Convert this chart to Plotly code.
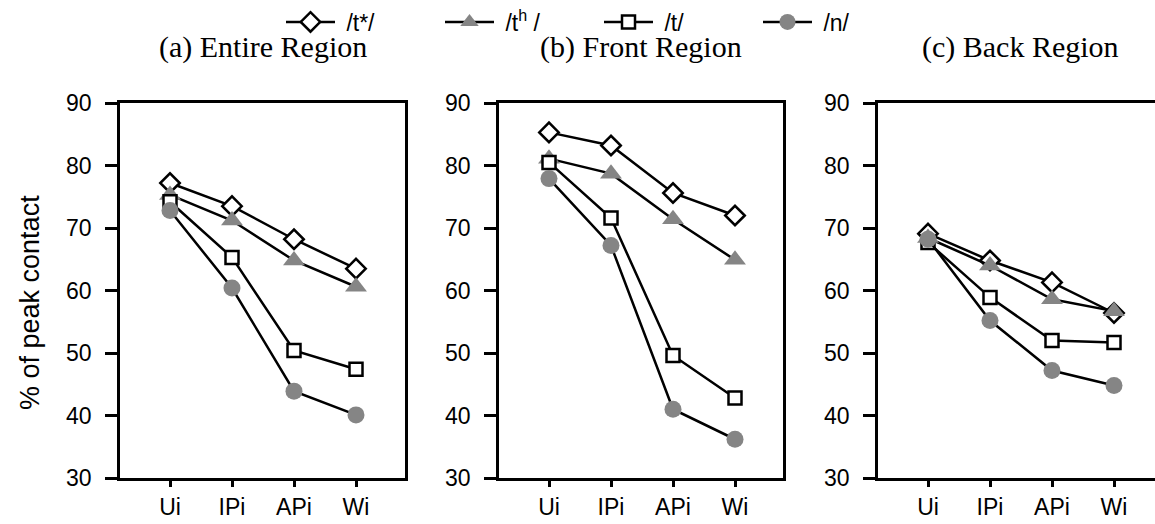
import plotly.graph_objects as go

categories = ["Ui", "IPi", "APi", "Wi"]
y_ticks = [30, 40, 50, 60, 70, 80, 90]

panel_titles = ["(a) Entire Region", "(b) Front Region", "(c) Back Region"]
series_names = ["/t*/", "/t<sup>h</sup> /", "/t/", "/n/"]

# panel (a) Entire Region
entire_tstar = [77.2, 73.5, 68.2, 63.5]
entire_th = [75.3, 71.2, 64.8, 60.6]
entire_t = [74.2, 65.3, 50.4, 47.4]
entire_n = [72.8, 60.4, 43.9, 40.1]

# panel (b) Front Region
front_tstar = [85.3, 83.2, 75.6, 72.0]
front_th = [81.1, 78.7, 71.4, 64.9]
front_t = [80.5, 71.6, 49.6, 42.8]
front_n = [77.9, 67.2, 41.0, 36.2]

# panel (c) Back Region
back_tstar = [69.1, 64.8, 61.3, 56.4]
back_th = [68.4, 64.0, 58.6, 56.7]
back_t = [67.7, 58.9, 52.0, 51.7]
back_n = [68.2, 55.2, 47.2, 44.8]

panels = [
    [entire_tstar, entire_th, entire_t, entire_n],
    [front_tstar, front_th, front_t, front_n],
    [back_tstar, back_th, back_t, back_n],
]

W, H = 1155, 524
GRAY = "#858585"
styles = [
    dict(symbol="diamond", size=15, color="white", line=dict(color="black", width=2.5)),
    dict(symbol="triangle-up", size=19, color=GRAY, line=dict(color=GRAY, width=0)),
    dict(symbol="square", size=13, color="white", line=dict(color="black", width=2.5)),
    dict(symbol="circle", size=17, color=GRAY, line=dict(color=GRAY, width=0)),
]

# pixel geometry of the three panels (left, right)
px_dom = [(120, 405), (499, 783), (878, 1163)]
y_bottom_px, y_top_px = 478, 103

NB = "\u00a0"

fig = go.Figure()
for p, series in enumerate(panels):
    ax = "" if p == 0 else str(p + 1)
    for s, vals in enumerate(series):
        fig.add_trace(go.Scatter(
            x=categories, y=vals, mode="lines+markers",
            name=NB + series_names[s], showlegend=(p == 0),
            line=dict(color="black", width=2.5),
            marker=styles[s],
            xaxis="x" + ax, yaxis="y" + ax,
        ))

font_sans = "Liberation Sans, Arial, sans-serif"
font_serif = "Liberation Serif, Times New Roman, serif"

layout = dict(
    width=W, height=H,
    margin=dict(l=0, r=0, t=0, b=0, autoexpand=False),
    paper_bgcolor="white", plot_bgcolor="white",
    font=dict(family=font_sans, size=23, color="black"),
    showlegend=True,
    legend=dict(
        orientation="h", x=281 / W, xanchor="left", y=1 - 22 / H, yanchor="middle",
        traceorder="normal", itemwidth=49,
        entrywidth=95, entrywidthmode="pixels",
        font=dict(family=font_sans, size=23, color="black"),
        bgcolor="rgba(0,0,0,0)", borderwidth=0, itemsizing="trace",
    ),
    annotations=[],
)

for p in range(3):
    ax = "" if p == 0 else str(p + 1)
    l, r = px_dom[p]
    dom = [l / W, min(r / W, 1.0)]
    unit = 62.0
    x0 = -(50.0 / unit)
    xr = [x0, x0 + (min(r, W) - l) / unit]
    layout["xaxis" + ax] = dict(
        domain=dom, range=xr, type="category", categoryorder="array", categoryarray=categories,
        showline=True, linecolor="black", linewidth=2.5, mirror=True,
        ticks="outside", ticklen=6, tickwidth=2.5, tickcolor="black",
        showgrid=False, zeroline=False, anchor="y" + ax, automargin=False,
        tickfont=dict(family=font_sans, size=23), ticklabelstandoff=1,
        fixedrange=True,
    )
    layout["yaxis" + ax] = dict(
        domain=[1 - y_bottom_px / H, 1 - y_top_px / H], range=[30, 90],
        tickvals=y_ticks, ticktext=[str(v) for v in y_ticks],
        showline=True, linecolor="black", linewidth=2.5, mirror=(p < 2),
        ticks="outside", ticklen=12, tickwidth=2.5, tickcolor="black",
        showgrid=False, zeroline=False, anchor="x" + ax, automargin=False,
        tickfont=dict(family=font_sans, size=23), ticklabelstandoff=9,
        fixedrange=True,
    )
    layout["annotations"].append(dict(
        text=panel_titles[p], xref="paper", yref="paper",
        x=((l + r) / 2) / W, y=1 - 47 / H, xanchor="center", yanchor="middle",
        showarrow=False, font=dict(family=font_serif, size=30, color="black"),
    ))

layout["annotations"].append(dict(
    text="% of peak contact", xref="paper", yref="paper",
    x=30 / W, y=1 - 303 / H, xanchor="center", yanchor="middle", textangle=-90,
    showarrow=False, font=dict(family=font_sans, size=27, color="black"),
))

fig.update_layout(**layout)
fig.write_html(
    "out.html",
    config={"displayModeBar": False},
    post_script="document.body.style.margin='0';document.body.style.padding='0';document.body.style.overflow='hidden';",
)
